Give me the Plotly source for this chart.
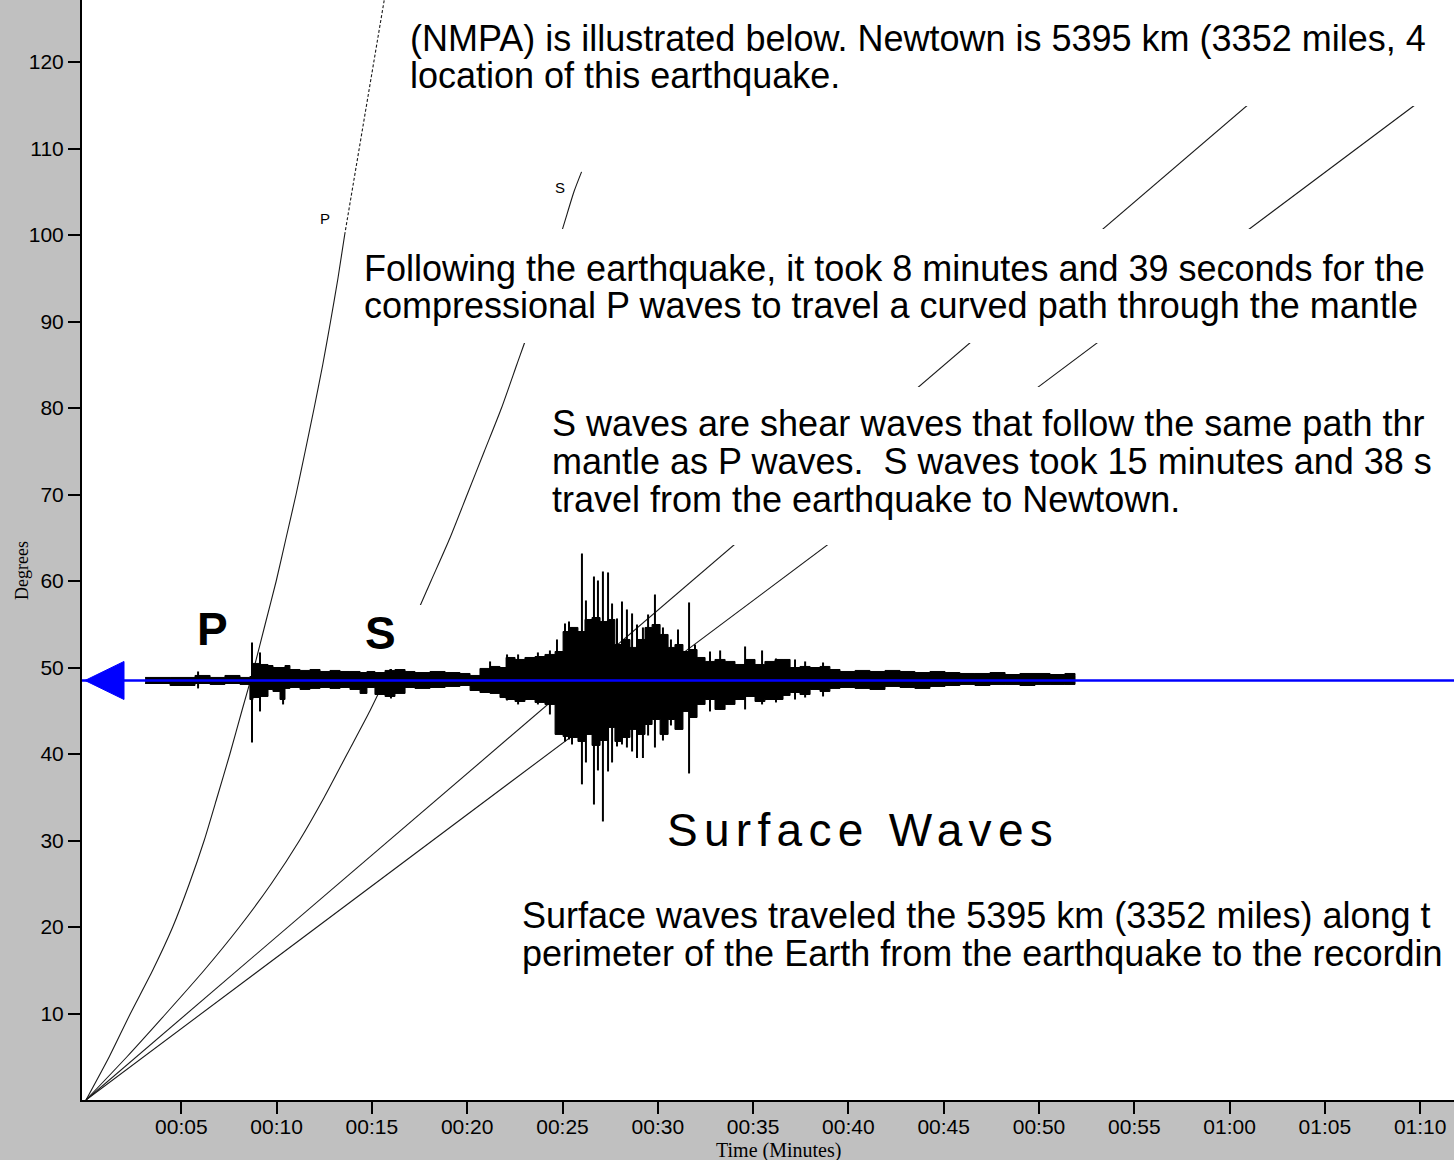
import plotly.graph_objects as go

# ---------------- data ----------------
# P travel-time curve: epicentral distance (degrees) vs travel time (minutes)
p_deg = [0, 5, 10, 15, 20, 25, 30, 35, 40, 45, 50, 55, 60, 65, 70, 75, 80, 85, 90, 95, 100]
p_min = [0, 1.22, 2.33, 3.50, 4.55, 5.42, 6.20, 6.88, 7.55, 8.18, 8.82, 9.40, 9.98,
         10.50, 11.02, 11.50, 11.97, 12.42, 12.83, 13.22, 13.57]
# diffracted P (dashed part)
pdiff_deg = [100, 110, 120, 127.2]
pdiff_min = [13.57, 14.33, 15.10, 15.65]
# S travel-time curve
s_deg = [0, 5, 10, 15, 20, 25, 30, 35, 40, 45, 50, 55, 60, 65, 70, 75, 80, 85, 90, 95, 100, 105, 107.3]
s_min = [0, 2.15, 4.20, 6.20, 8.05, 9.72, 11.20, 12.50, 13.70, 14.90, 16.00, 17.10, 18.10,
         19.10, 20.00, 20.90, 21.80, 22.60, 23.40, 24.10, 24.90, 25.60, 26.00]
# surface-wave travel-time lines
surf_deg = [0, 127.2]
surf1_min = [0, 67.4]
surf2_min = [0, 77.1]

# station distance (degrees) where the seismogram is drawn
station_deg = 48.5

# seismogram envelope: time (min), amplitude above / below the trace line (degrees)
seis_t = [3.10, 4.41, 5.72, 6.51, 7.29, 8.08, 8.60, 8.76, 9.13, 9.55, 9.81, 10.18, 10.44, 10.70,
          11.23, 11.75, 12.28, 12.80, 13.33, 13.85, 14.38, 14.74, 15.16, 15.69, 16.21, 16.74,
          17.26, 18.05, 18.84, 19.62, 20.15, 20.67, 21.20, 21.72, 22.04, 22.51, 23.03, 23.56,
          24.08, 24.61, 25.03, 25.39, 25.81, 26.18, 26.55, 26.97, 27.39, 27.75, 28.12, 28.54,
          28.91, 29.33, 29.70, 30.12, 30.54, 30.90, 31.32, 31.69, 32.06, 32.48, 33.00, 33.53,
          34.05, 34.58, 35.10, 35.62, 36.15, 36.57, 36.94, 37.46, 37.99, 38.51, 39.03, 39.56,
          40.35, 41.13, 41.92, 42.71, 43.49, 44.28, 45.07, 45.85, 46.64, 47.43, 48.22, 49.00,
          49.79, 50.58, 51.36, 51.89]
seis_up = [0.35, 0.35, 0.58, 0.35, 0.58, 0.35, 0.46, 1.97, 1.85, 1.73, 1.50, 1.50, 1.73, 1.27,
           1.16, 1.27, 1.04, 1.16, 1.04, 1.04, 0.92, 1.04, 0.92, 1.16, 1.27, 1.04,
           0.92, 1.04, 0.92, 0.81, 0.58, 1.39, 1.62, 1.50, 2.66, 2.43, 2.66, 2.77,
           3.01, 3.35, 5.66, 6.13, 5.66, 7.05, 7.28, 6.82, 7.05, 4.16, 4.74, 3.82,
           4.74, 6.13, 6.47, 5.32, 3.82, 4.16, 3.35, 3.58, 2.66, 2.20, 2.43, 2.20,
           1.85, 2.43, 1.85, 2.20, 2.43, 2.43, 1.50, 1.62, 1.50, 1.62, 1.27, 1.04,
           1.16, 1.04, 1.16, 1.04, 0.92, 1.04, 0.92, 0.81, 0.81, 0.92, 0.69, 0.81,
           0.81, 0.69, 0.81, 0.58]
seis_dn = [0.35, 0.35, 0.58, 0.35, 0.46, 0.35, 0.46, 2.20, 1.97, 1.85, 1.04, 1.27, 2.20, 0.92,
           0.81, 1.04, 0.92, 0.81, 0.92, 0.81, 1.04, 1.50, 0.81, 1.62, 1.85, 1.50,
           0.81, 0.92, 0.81, 0.69, 0.58, 1.16, 1.39, 1.50, 1.97, 2.20, 2.43, 2.20,
           2.54, 2.77, 6.24, 6.47, 6.59, 7.05, 6.24, 7.51, 6.94, 5.43, 7.05, 6.59,
           5.66, 6.24, 5.09, 4.51, 6.24, 4.51, 5.66, 3.58, 4.28, 2.77, 2.20, 3.35,
           2.77, 2.20, 1.85, 2.43, 2.20, 2.20, 1.73, 1.39, 1.62, 1.04, 1.27, 0.92,
           0.81, 0.92, 1.04, 0.69, 0.81, 0.92, 0.69, 0.58, 0.46, 0.58, 0.46, 0.46,
           0.58, 0.46, 0.46, 0.46]
# isolated spikes of the seismogram: time (min), up / down extent (degrees)
spike_t = [5.88, 8.71, 9.13, 10.34, 16.00, 21.20, 22.09, 22.67, 23.71, 24.34, 24.71, 25.13,
           25.34, 25.50, 26.02, 26.23, 26.65, 26.86, 27.12, 27.39, 27.60, 27.86, 28.12, 28.38,
           28.65, 28.91, 29.22, 29.49, 29.85, 30.27, 30.69, 31.06, 31.64, 31.95, 32.74, 33.27,
           34.58, 35.47, 36.20, 37.20, 37.73, 38.67]
spike_up = [1.04, 4.39, 3.24, 1.50, 1.50, 2.20, 3.01, 3.01, 3.24, 3.47, 4.74, 6.59,
            6.82, 6.13, 14.68, 9.25, 12.02, 11.56, 12.60, 12.49, 8.90, 7.17, 9.13, 8.21,
            7.75, 6.47, 6.13, 7.63, 9.94, 6.13, 4.74, 5.89, 9.02, 4.16, 3.35, 3.47,
            3.93, 3.47, 2.54, 2.43, 2.20, 2.08]
spike_dn = [0.92, 7.17, 3.58, 2.77, 2.08, 1.39, 2.31, 2.77, 2.77, 3.93, 3.93, 7.05,
            6.82, 7.40, 12.01, 9.48, 14.34, 10.40, 16.30, 10.52, 9.48, 7.63, 7.40, 7.75,
            8.21, 8.96, 8.96, 6.36, 7.75, 6.94, 5.20, 5.43, 10.75, 3.70, 3.58, 3.35,
            3.35, 2.77, 2.54, 2.20, 1.97, 1.85]

# axis ticks
x_tickvals = [5, 10, 15, 20, 25, 30, 35, 40, 45, 50, 55, 60, 65, 70]
x_ticktext = ["00:05", "00:10", "00:15", "00:20", "00:25", "00:30", "00:35", "00:40",
              "00:45", "00:50", "00:55", "01:00", "01:05", "01:10"]
y_tickvals = [10, 20, 30, 40, 50, 60, 70, 80, 90, 100, 110, 120]

# ---------------- layout geometry ----------------
W, H = 1454, 1160
ML, MB = 82, 60
PX_PER_MIN = 19.06
PX_PER_DEG = 8.65
X0 = -4 / PX_PER_MIN
X1 = X0 + (W - ML) / PX_PER_MIN
Y1 = (H - MB) / PX_PER_DEG


def xd(px):
    return X0 + (px - ML) / PX_PER_MIN


def yd(py):
    return (H - MB - py) / PX_PER_DEG


SANS = "Liberation Sans, Arial, sans-serif"
SERIF = "Liberation Serif, Times New Roman, serif"

fig = go.Figure()

curve_style = dict(color="#1a1a1a", width=1.1)
fig.add_trace(go.Scatter(x=p_min, y=p_deg, mode="lines", line=dict(curve_style, shape="spline", smoothing=0.6),
                         hoverinfo="skip"))
fig.add_trace(go.Scatter(x=pdiff_min, y=pdiff_deg, mode="lines",
                         line=dict(color="#1a1a1a", width=1.1, dash="3px,2px"), hoverinfo="skip"))
fig.add_trace(go.Scatter(x=s_min, y=s_deg, mode="lines", line=dict(curve_style, shape="spline", smoothing=0.6),
                         hoverinfo="skip"))
fig.add_trace(go.Scatter(x=surf1_min, y=surf_deg, mode="lines", line=curve_style, hoverinfo="skip"))
fig.add_trace(go.Scatter(x=surf2_min, y=surf_deg, mode="lines", line=curve_style, hoverinfo="skip"))

# seismogram body
env_x = seis_t + seis_t[::-1]
env_y = [station_deg + u for u in seis_up] + [station_deg - d for d in seis_dn][::-1]
fig.add_trace(go.Scatter(x=env_x, y=env_y, mode="lines", fill="toself", fillcolor="black",
                         line=dict(color="black", width=1, shape="hv"), hoverinfo="skip"))
# seismogram spikes
sx, sy = [], []
for t, u, d in zip(spike_t, spike_up, spike_dn):
    sx += [t, t, None]
    sy += [station_deg + u, station_deg - d, None]
fig.add_trace(go.Scatter(x=sx, y=sy, mode="lines", line=dict(color="black", width=2),
                         hoverinfo="skip"))
# blue station line
fig.add_trace(go.Scatter(x=[X0, X1], y=[station_deg, station_deg], mode="lines",
                         line=dict(color="#0000FF", width=2.5), hoverinfo="skip"))

# white text boxes that mask the curves beneath them
mask_boxes = [
    (400, 0, 1460, 106),
    (352, 229, 1460, 343),
    (545, 387, 1460, 545),
    (355, 605, 425, 669),
]
shapes = []
for (a, b, c, d) in mask_boxes:
    shapes.append(dict(type="rect", xref="x", yref="y", x0=xd(a), x1=xd(c), y0=yd(d), y1=yd(b),
                       fillcolor="white", line=dict(width=0), layer="above"))
# blue arrow head at the left end of the station line
shapes.append(dict(type="path", xref="x", yref="y", xsizemode="pixel", ysizemode="pixel",
                   xanchor=0, yanchor=station_deg, path="M-1,0 L38,19 L38,-19 Z",
                   fillcolor="#0000FF", line=dict(color="#0000FF", width=1), layer="above"))


def txt(s, px, py, size=36, anchor="left", family=SANS, **kw):
    return dict(text=s, x=xd(px), y=yd(py), xref="x", yref="y", xanchor=anchor,
                yanchor="middle", showarrow=False,
                font=dict(family=family, size=size, color="black"), **kw)


annotations = [
    txt("(NMPA) is illustrated below. Newtown is 5395 km (3352 miles, 4", 408, 38),
    txt("location of this earthquake.", 408, 75),
    txt("Following the earthquake, it took 8 minutes and 39 seconds for the", 362, 268),
    txt("compressional P waves to travel a curved path through the mantle", 362, 305),
    txt("S waves are shear waves that follow the same path thr", 550, 423),
    txt("mantle as P waves.\u00a0 S waves took 15 minutes and 38 s", 550, 461),
    txt("travel from the earthquake to Newtown.", 550, 499),
    txt('<span style="letter-spacing:6.3px">Surface Waves</span>', 665, 830, size=46),
    txt("Surface waves traveled the 5395 km (3352 miles) along t", 520, 915),
    txt("perimeter of the Earth from the earthquake to the recordin", 520, 953),
    txt("<b>P</b>", 212, 629, size=46, anchor="center"),
    txt("<b>S</b>", 380, 633, size=46, anchor="center"),
    txt("P", 325, 218, size=15, anchor="center"),
    txt("S", 560, 187, size=15, anchor="center"),
    dict(text="Degrees", xref="paper", x=0, xshift=22 - ML, yref="y", y=yd(571),
         xanchor="center", yanchor="middle", textangle=-90, showarrow=False,
         font=dict(family=SERIF, size=18, color="black")),
    dict(text="Time (Minutes)", xref="x", x=xd(778), yref="paper", y=0, yshift=-37,
         xanchor="center", yanchor="top", showarrow=False,
         font=dict(family=SERIF, size=20, color="black")),
]

fig.update_layout(
    width=W, height=H,
    margin=dict(l=ML, r=0, t=0, b=MB, pad=0),
    paper_bgcolor="#C0C0C0", plot_bgcolor="white",
    showlegend=False,
    shapes=shapes,
    annotations=annotations,
    xaxis=dict(range=[X0, X1], tickvals=x_tickvals, ticktext=x_ticktext,
               ticks="outside", ticklen=12, tickwidth=1.5, tickcolor="black",
               ticklabelstandoff=-5,
               showline=True, linecolor="black", linewidth=2, showgrid=False, zeroline=False,
               tickfont=dict(family=SANS, size=21, color="black")),
    yaxis=dict(range=[0, Y1], tickvals=y_tickvals,
               ticks="outside", ticklen=12, tickwidth=1.5, tickcolor="black",
               showline=True, linecolor="black", linewidth=2, showgrid=False, zeroline=False,
               tickfont=dict(family=SANS, size=21, color="black")),
)

fig.write_html("out.html", config={"displayModeBar": False},
               post_script="document.body.style.margin='0';")
